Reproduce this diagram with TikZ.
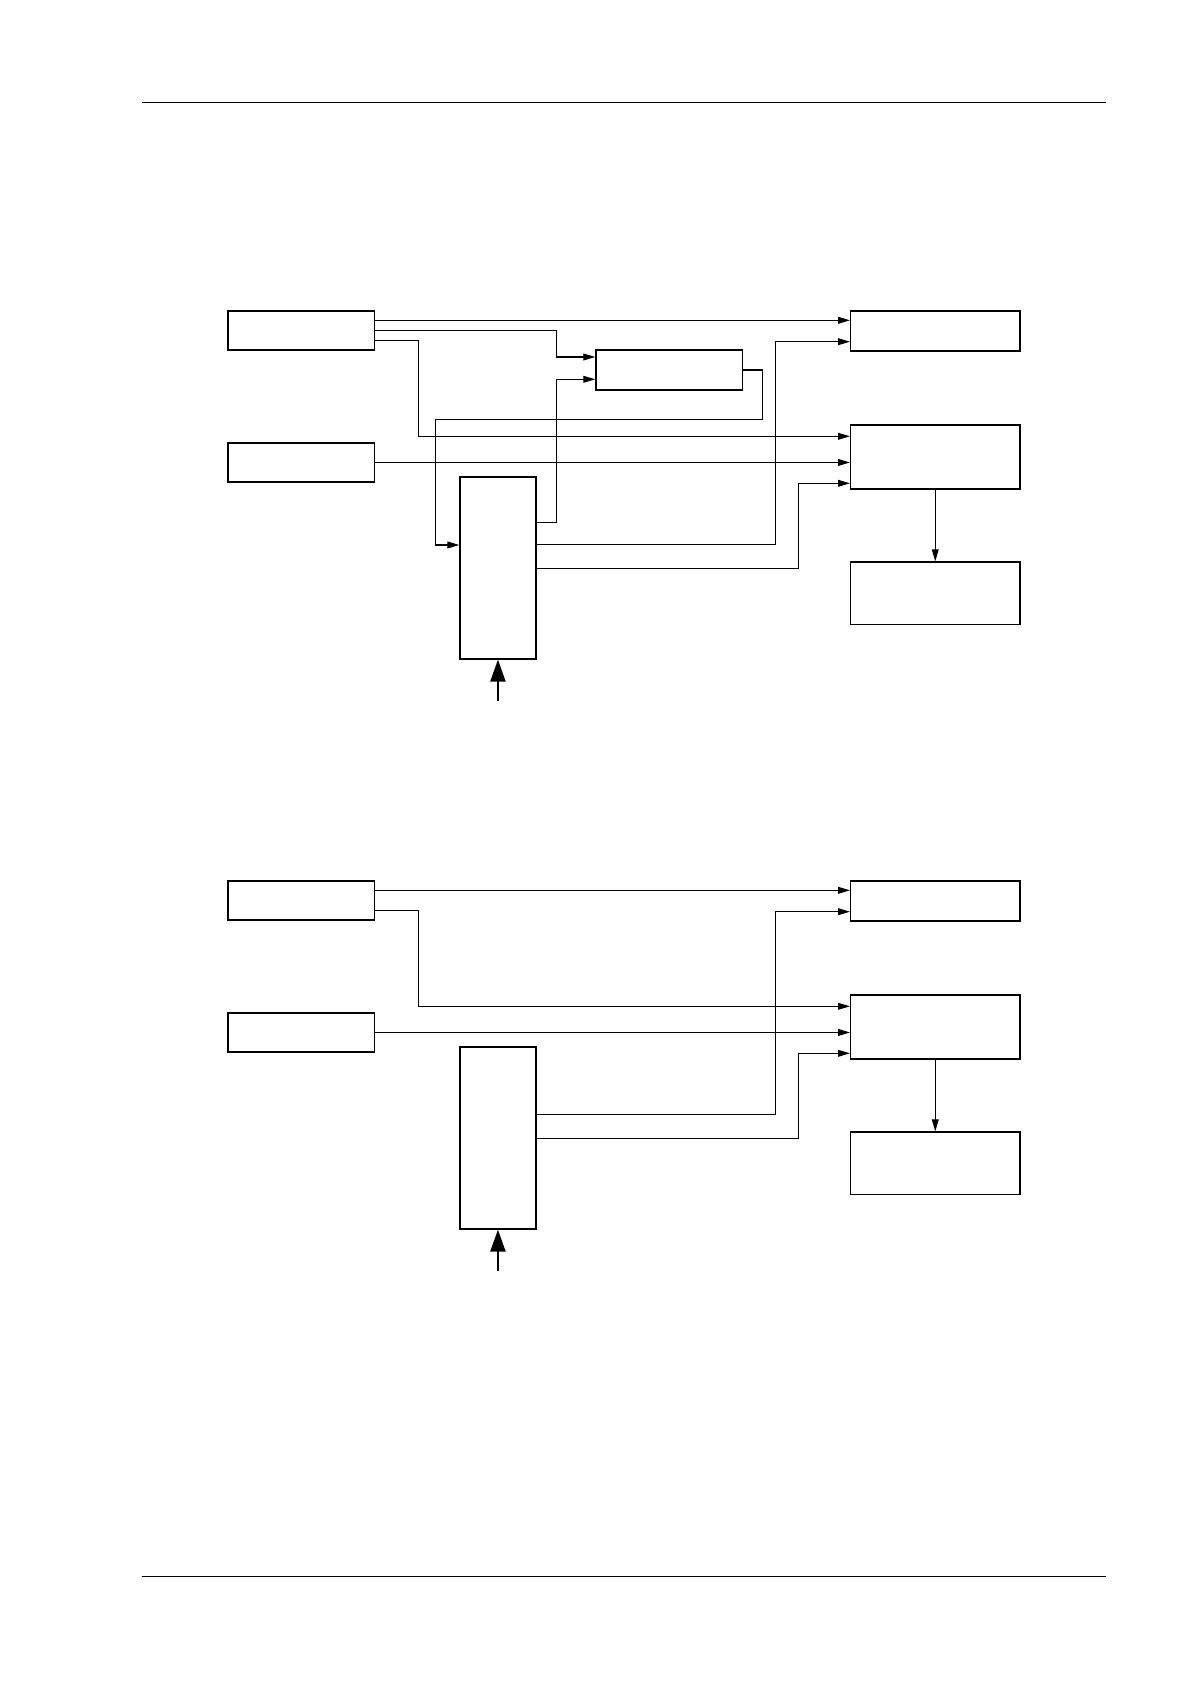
\documentclass[tikz,border=0pt]{standalone}
\usepackage{tikz}
\usetikzlibrary{arrows.meta,calc,positioning}
\tikzset{blk/.style={draw,line width=0.65pt,inner sep=0pt,anchor=north west},
  sig/.style={line width=0.6pt,-{Triangle[length=6pt,width=3.4pt]}},
  feed/.style={line width=1.1pt,-{Triangle[length=11pt,width=7.5pt]}}}
\newcommand{\plantrow}[2]{\begin{scope}[shift={(0,#1)},name prefix=#2]
  \node[blk,minimum width=73.2pt,minimum height=19.5pt] (src1) at (227.3,310.3) {};
  \node[blk,minimum width=73.2pt,minimum height=19.5pt] (src2) at (227.3,442.3) {};
  \node[blk,minimum width=38pt,minimum height=91pt] (ctl) at (459.3,476.3) {};
  \node[blk,minimum width=84.6pt,minimum height=20pt] (out1) at (850,310.3) {};
  \node[blk,minimum width=84.6pt,minimum height=32pt] (mix) at (850,424.3) {};
  \node[blk,minimum width=84.6pt,minimum height=31.4pt] (res) at (850,561.3) {};
  \coordinate (push) at ($(ctl.south)+(0,41.5)$);
  \draw[sig] ($(src1.north east)+(0,10)$) -- ($(out1.north west)+(0,10)$);
  \draw[sig] ($(src1.north east)+(0,30)$) -- ++(43.6,0) |- ($(mix.north west)+(0,12)$);
  \draw[sig] (src2.east) -- (src2.east -| mix.west);
  \draw[sig] ($(ctl.north east)+(0,68.5)$) -- ++(238.7,0) |- ($(out1.north west)+(0,31.4)$);
  \draw[sig] ($(ctl.north east)+(0,92)$) -- ++(262,0) |- ($(mix.north west)+(0,59)$);
  \draw[sig] (mix.south) -- (res.north);
  \draw[feed] (push) -- (ctl.south);
  \end{scope}}

\begin{document}
\begin{tikzpicture}[x=0.5pt,y=-0.5pt]
\useasboundingbox (0,0) rectangle (1190,1684);
% page rules
\draw[line width=0.75pt] (141.5,102.3) -- (1106,102.3);
\draw[line width=0.75pt] (141.5,1576.3) -- (1106,1576.3);
% upper scheme, with the middle block
\plantrow{0}{u-}
\node[blk,minimum width=73.2pt,minimum height=20pt] (u-mid) at (595.3,349.3) {};
\draw[sig] ($(u-src1.north east)+(0,20)$) -- ++(181.6,0) |- ($(u-mid.north west)+(0,7.7)$);
\draw[sig] ($(u-ctl.north east)+(0,46)$) -- ++(20,0) |- ($(u-mid.north west)+(0,30)$);
\draw[sig] (u-mid.east) -- ++(19.6,0) |- ($(u-ctl.north west)+(-23.6,-57)$)
  |- ($(u-ctl.north west)+(0,68.7)$);
% lower scheme
\plantrow{570}{l-}
\end{tikzpicture}
\end{document}
